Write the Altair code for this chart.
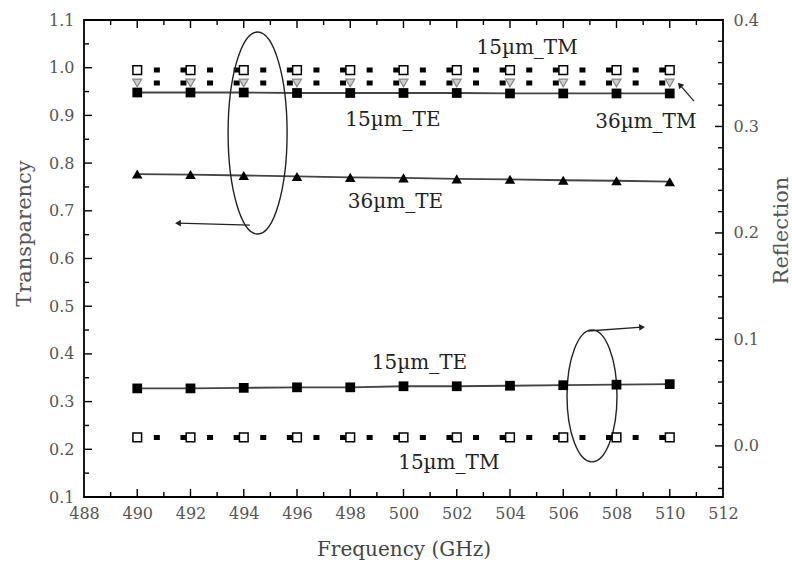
import altair as alt
import pandas as pd

FONT = "DejaVu Serif"
W, H = 639, 477

# measured frequencies (GHz)
freq = [490, 492, 494, 496, 498, 500, 502, 504, 506, 508, 510]

# transparency, left axis
trans_15um_tm = [0.995, 0.995, 0.995, 0.995, 0.995, 0.995, 0.995, 0.995, 0.995, 0.995, 0.995]
trans_36um_tm = [0.968, 0.968, 0.968, 0.968, 0.968, 0.968, 0.968, 0.968, 0.968, 0.968, 0.968]
trans_15um_te = [0.948, 0.948, 0.948, 0.947, 0.947, 0.947, 0.947, 0.946, 0.946, 0.946, 0.946]
trans_36um_te = [0.777, 0.776, 0.774, 0.772, 0.770, 0.769, 0.767, 0.766, 0.764, 0.763, 0.761]

# reflection, right axis
refl_15um_te = [0.054, 0.054, 0.0545, 0.055, 0.055, 0.056, 0.056, 0.0565, 0.057, 0.0575, 0.058]
refl_15um_tm = [0.008, 0.008, 0.008, 0.008, 0.008, 0.008, 0.008, 0.008, 0.008, 0.008, 0.008]

# axis labels and tick positions
x_labels = [488, 490, 492, 494, 496, 498, 500, 502, 504, 506, 508, 510, 512]
x_major = [490, 492, 494, 496, 498, 500, 502, 504, 506, 508, 510]
x_minor = [489, 491, 493, 495, 497, 499, 501, 503, 505, 507, 509, 511]
yl_labels = [0.1, 0.2, 0.3, 0.4, 0.5, 0.6, 0.7, 0.8, 0.9, 1.0, 1.1]
yl_major = [0.2, 0.3, 0.4, 0.5, 0.6, 0.7, 0.8, 0.9, 1.0]
yl_minor = [0.15, 0.25, 0.35, 0.45, 0.55, 0.65, 0.75, 0.85, 0.95, 1.05]
yr_labels = [0.0, 0.1, 0.2, 0.3, 0.4]
yr_major = [0.0, 0.1, 0.2, 0.3]
yr_minor = [-0.04, -0.02, 0.02, 0.04, 0.06, 0.08, 0.12, 0.14, 0.16, 0.18,
            0.22, 0.24, 0.26, 0.28, 0.32, 0.34, 0.36, 0.38]

# curve labels (frequency, transparency units)
ann_text = ["15\u00b5m_TM", "15\u00b5m_TE", "36\u00b5m_TM", "36\u00b5m_TE", "15\u00b5m_TE", "15\u00b5m_TM"]
ann_x = [504.64, 499.6, 509.1, 499.7, 500.6, 501.7]
ann_y = [1.041, 0.890, 0.886, 0.718, 0.381, 0.171]

# group ellipses: centre (frequency, transparency), radii in px
ell_x = [494.52, 507.08]
ell_y = [0.863, 0.312]
ell_rx = [29.5, 25.0]
ell_ry = [101.0, 66.0]

# pointer arrows: tail -> tip, head rotation
arr_x = [494.23, 510.91, 506.93]
arr_y = [0.670, 0.930, 0.448]
arr_x2 = [491.53, 510.38, 508.96]
arr_y2 = [0.674, 0.964, 0.456]
arr_angle = [270, 319, 86]

X = alt.Scale(domain=[488, 512], nice=False, zero=False)
YL = alt.Scale(domain=[0.1, 1.1], nice=False, zero=False)
YR = alt.Scale(domain=[-0.048, 0.4], nice=False, zero=False)

x_axis = alt.Axis(values=x_labels, format="d", ticks=False, domain=False, grid=False,
                  labelFont=FONT, labelFontSize=16, labelColor="#555", labelPadding=8,
                  labelFlush=False, labelOverlap=False,
                  title="Frequency (GHz)", titleFont=FONT, titleFontSize=20,
                  titleFontWeight="normal", titleColor="#444", titlePadding=18)
yl_axis = alt.Axis(values=yl_labels, format=".1f", orient="left", ticks=False, domain=False,
                   grid=False, labelFont=FONT, labelFontSize=16, labelColor="#555",
                   labelPadding=10, labelFlush=False, labelOverlap=False,
                   title="Transparency", titleFont=FONT, titleFontSize=21,
                   titleFontWeight="normal", titleColor="#555", titlePadding=14,
                   titleY=213)
yr_axis = alt.Axis(values=yr_labels, format=".1f", orient="right", ticks=False, domain=False,
                   grid=False, labelFont=FONT, labelFontSize=16, labelColor="#555",
                   labelPadding=10, labelFlush=False, labelOverlap=False,
                   title="Reflection", titleFont=FONT, titleFontSize=21, titleAngle=270,
                   titleBaseline="top", titleFontWeight="normal", titleColor="#555",
                   titlePadding=12, titleY=210)


def series(vals):
    return pd.DataFrame({"f": freq, "v": vals})


def vals(v):
    return pd.DataFrame({"v": v})


def xenc(field="f"):
    return alt.X(f"{field}:Q", scale=X, axis=x_axis)


def yenc(scale, field="v"):
    return alt.Y(f"{field}:Q", scale=scale, axis=yl_axis if scale is YL else yr_axis)


def ellipse_path(ratio):
    k = 0.5523
    a = ratio
    return (f"M {a} 0 C {a} {k} {a * k} 1 0 1 C {-a * k} 1 {-a} {k} {-a} 0 "
            f"C {-a} {-k} {-a * k} -1 0 -1 C {a * k} -1 {a} {-k} {a} 0 Z")


TICK = dict(color="black", strokeWidth=1.4)

# inward tick marks on all four sides
left_ticks = [
    alt.Chart(vals(yl_major)).mark_rule(**TICK).encode(
        y=yenc(YL), x=alt.value(0), x2=alt.value(8)),
    alt.Chart(vals(yl_minor)).mark_rule(**TICK).encode(
        y=yenc(YL), x=alt.value(0), x2=alt.value(5)),
    alt.Chart(vals(x_major)).mark_rule(**TICK).encode(
        x=xenc("v"), y=alt.value(H), y2=alt.value(H - 8)),
    alt.Chart(vals(x_minor)).mark_rule(**TICK).encode(
        x=xenc("v"), y=alt.value(H), y2=alt.value(H - 5)),
    alt.Chart(vals(x_major)).mark_rule(**TICK).encode(
        x=xenc("v"), y=alt.value(0), y2=alt.value(8)),
    alt.Chart(vals(x_minor)).mark_rule(**TICK).encode(
        x=xenc("v"), y=alt.value(0), y2=alt.value(5)),
]

SOLID = dict(color="#444", strokeWidth=1.8)
DOTTED = dict(color="black", strokeWidth=5, strokeDash=[6, 20.6], strokeDashOffset=10)

left_series = [
    alt.Chart(series(trans_15um_te)).mark_line(**SOLID).encode(x=xenc(), y=yenc(YL)),
    alt.Chart(series(trans_36um_te)).mark_line(**SOLID).encode(x=xenc(), y=yenc(YL)),
    alt.Chart(series(trans_15um_tm)).mark_line(**DOTTED).encode(x=xenc(), y=yenc(YL)),
    alt.Chart(series(trans_36um_tm)).mark_line(**DOTTED).encode(x=xenc(), y=yenc(YL)),
    alt.Chart(series(trans_36um_te)).mark_point(
        shape="triangle-up", filled=True, color="black", size=110, opacity=1
    ).encode(x=xenc(), y=yenc(YL)),
    alt.Chart(series(trans_15um_te)).mark_point(
        shape="square", filled=True, color="black", size=95, opacity=1
    ).encode(x=xenc(), y=yenc(YL)),
    alt.Chart(series(trans_36um_tm)).mark_point(
        shape="triangle-down", filled=True, fill="#cfcfcf", stroke="#888",
        strokeWidth=1.2, size=80, opacity=1
    ).encode(x=xenc(), y=yenc(YL)),
    alt.Chart(series(trans_15um_tm)).mark_point(
        shape="square", filled=True, fill="white", stroke="black",
        strokeWidth=1.5, size=75, opacity=1
    ).encode(x=xenc(), y=yenc(YL)),
]

ann_df = pd.DataFrame({"x": ann_x, "y": ann_y, "label": ann_text})
labels = alt.Chart(ann_df).mark_text(
    font=FONT, fontSize=20, color="#222", align="center", baseline="middle"
).encode(x=xenc("x"), y=yenc(YL, "y"), text="label:N")

ellipses = [
    alt.Chart(pd.DataFrame({"x": [ell_x[i]], "y": [ell_y[i]]})).mark_point(
        shape=ellipse_path(ell_rx[i] / ell_ry[i]), filled=False, stroke="#222",
        strokeWidth=1.4, size=(2 * ell_ry[i]) ** 2, opacity=1
    ).encode(x=xenc("x"), y=yenc(YL, "y"))
    for i in range(len(ell_x))
]

arr_df = pd.DataFrame({"x": arr_x, "y": arr_y, "x2": arr_x2, "y2": arr_y2, "a": arr_angle})
arrow_lines = alt.Chart(arr_df).mark_rule(color="#222", strokeWidth=1.3).encode(
    x=xenc("x"), y=yenc(YL, "y"), x2="x2:Q", y2="y2:Q")
arrow_heads = alt.Chart(arr_df).mark_point(
    shape="triangle-up", filled=True, color="#222", size=45, opacity=1
).encode(x=xenc("x2"), y=yenc(YL, "y2"), angle=alt.Angle("a:Q", scale=None))

left_group = alt.layer(*left_ticks, *left_series, *ellipses, arrow_lines, arrow_heads, labels)

right_group = alt.layer(
    alt.Chart(vals(yr_major)).mark_rule(**TICK).encode(
        y=yenc(YR), x=alt.value(W - 8), x2=alt.value(W)),
    alt.Chart(vals(yr_minor)).mark_rule(**TICK).encode(
        y=yenc(YR), x=alt.value(W - 5), x2=alt.value(W)),
    alt.Chart(series(refl_15um_te)).mark_line(**SOLID).encode(x=xenc(), y=yenc(YR)),
    alt.Chart(series(refl_15um_tm)).mark_line(**DOTTED).encode(x=xenc(), y=yenc(YR)),
    alt.Chart(series(refl_15um_te)).mark_point(
        shape="square", filled=True, color="black", size=95, opacity=1
    ).encode(x=xenc(), y=yenc(YR)),
    alt.Chart(series(refl_15um_tm)).mark_point(
        shape="square", filled=True, fill="white", stroke="black",
        strokeWidth=1.5, size=75, opacity=1
    ).encode(x=xenc(), y=yenc(YR)),
)

chart = alt.layer(left_group, right_group).resolve_scale(y="independent").properties(
    width=W, height=H,
    autosize=alt.AutoSizeParams(type="none"),
    padding={"left": 84, "top": 20, "right": 69, "bottom": 75},
    background="white",
).configure_view(stroke="black", strokeWidth=1.8)

chart.save("out.html", embed_options={"renderer": "svg", "actions": False})
